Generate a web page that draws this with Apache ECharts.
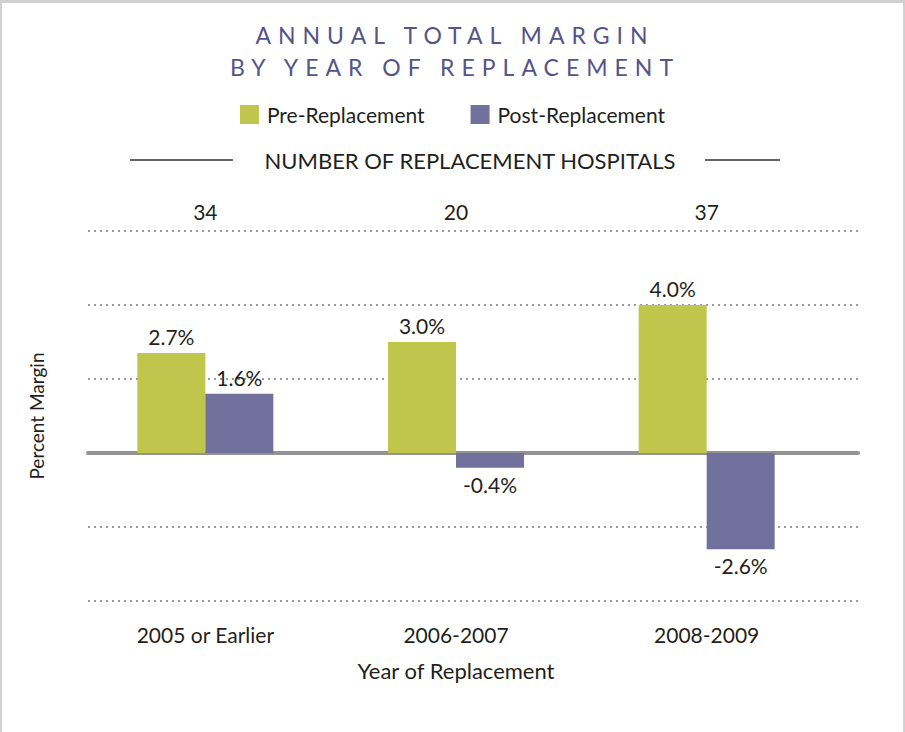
<!DOCTYPE html>
<html lang="en">
<head>
    <meta charset="UTF-8">
    <title>Annual Total Margin</title>
    <script src="https://cdn.jsdelivr.net/npm/echarts@6/dist/echarts.min.js"></script>
    <style>
        html, body { margin: 0; padding: 0; background: #fff; }
        #container { width: 905px; height: 732px; position: relative; }
        #frame {
            position: absolute; left: 0; top: 0; width: 905px; height: 732px;
            box-sizing: border-box; border-top: 3px solid #d0d0d0;
            border-left: 2px solid #d0d0d0; border-right: 2px solid #d0d0d0;
            pointer-events: none;
        }
        /* spaced-out caps for the title only */
        #container text[fill="#555488"] { letter-spacing: 7px; }
    </style>
</head>
<body>
<div id="container"></div>
<div id="frame"></div>
<script>
    var categories = ['2005 or Earlier', '2006-2007', '2008-2009'];
    var hospitalCounts = ['34', '20', '37'];
    var preReplacement = [2.7, 3.0, 4.0];
    var postReplacement = [1.6, -0.4, -2.6];

    var green = '#bfc64b', purple = '#72709c', ink = '#231f20';
    var font = 'Lato, "Open Sans", sans-serif';

    function withLabelSide(values) {
        return values.map(function (v) {
            return {value: v, label: {position: v < 0 ? 'bottom' : 'top'}};
        });
    }

    var myChart = echarts.init(document.getElementById('container'), null, {renderer: 'svg'});

    myChart.setOption({
        backgroundColor: '#fff',
        animation: false,
        textStyle: {fontFamily: font},
        title: {
            text: 'ANNUAL TOTAL MARGIN\nBY YEAR OF REPLACEMENT',
            left: 450,
            top: 14,
            textAlign: 'center',
            textStyle: {color: '#555488', fontSize: 23, fontWeight: 'normal', lineHeight: 32, fontFamily: font}
        },
        legend: {
            top: 99,
            left: 'center',
            itemWidth: 19,
            itemHeight: 19,
            itemGap: 46,
            icon: 'rect',
            textStyle: {fontSize: 21, color: ink, padding: [0, 0, 0, 3]},
            data: ['Pre-Replacement', 'Post-Replacement']
        },
        graphic: [
            {type: 'text', x: 470, y: 160, style: {text: 'NUMBER OF REPLACEMENT HOSPITALS', fontSize: 22, fill: ink, fontFamily: font, align: 'center', verticalAlign: 'middle'}},
            {type: 'line', shape: {x1: 130, y1: 160, x2: 233, y2: 160}, style: {stroke: '#333', lineWidth: 1.5}},
            {type: 'line', shape: {x1: 705, y1: 160, x2: 780, y2: 160}, style: {stroke: '#333', lineWidth: 1.5}}
        ],
        grid: [
            {left: 80, right: 73, top: 231, bottom: 131},
            {left: 88, right: 47, top: 231, bottom: 131}
        ],
        xAxis: [
            {
                type: 'category', gridIndex: 0, position: 'bottom', data: categories,
                axisLine: {show: false}, axisTick: {show: false},
                axisLabel: {fontSize: 21, color: ink, margin: 23},
                name: 'Year of Replacement', nameLocation: 'middle', nameGap: 58,
                nameTextStyle: {fontSize: 22, color: ink}
            },
            {
                type: 'category', gridIndex: 0, position: 'top', data: hospitalCounts,
                axisLine: {show: false}, axisTick: {show: false},
                axisLabel: {fontSize: 21, color: ink, margin: 9}
            },
            {
                type: 'category', gridIndex: 1, data: [''],
                axisLine: {show: true, onZero: true, lineStyle: {color: '#939393', width: 4}},
                axisTick: {show: false}, axisLabel: {show: false}
            }
        ],
        yAxis: [
            {
                type: 'value', gridIndex: 0, min: -4, max: 6, interval: 2, show: false
            },
            {
                type: 'value', gridIndex: 1, min: -4, max: 6, interval: 2,
                axisLine: {show: false}, axisTick: {show: false}, axisLabel: {show: false},
                splitLine: {lineStyle: {color: '#9a9a9a', width: 2, type: [2, 4]}},
                name: 'Percent Margin', nameLocation: 'middle', nameRotate: 90, nameGap: 42,
                nameTextStyle: {fontSize: 19, color: ink}
            }
        ],
        series: [
            {
                name: 'Pre-Replacement', type: 'bar', xAxisIndex: 0, yAxisIndex: 0,
                barWidth: 68, barGap: '0%',
                itemStyle: {color: green},
                label: {show: true, fontSize: 21, color: ink, distance: 6, formatter: function (p) { return p.value.toFixed(1) + '%'; }},
                data: withLabelSide(preReplacement)
            },
            {
                name: 'Post-Replacement', type: 'bar', xAxisIndex: 0, yAxisIndex: 0,
                barWidth: 68, barGap: '0%',
                itemStyle: {color: purple},
                label: {show: true, fontSize: 21, color: ink, distance: 6, formatter: function (p) { return p.value.toFixed(1) + '%'; }},
                data: withLabelSide(postReplacement)
            }
        ]
    });
</script>
</body>
</html>
